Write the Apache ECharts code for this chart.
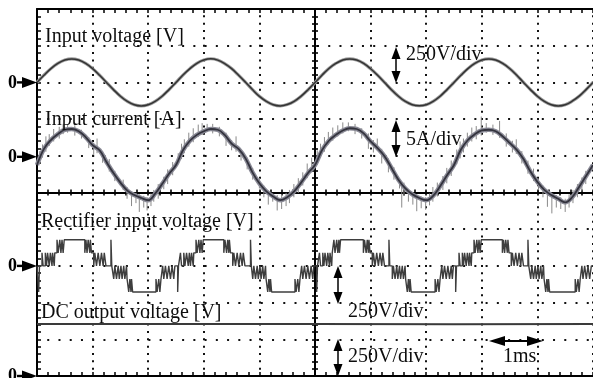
<!DOCTYPE html>
<html><head><meta charset="utf-8">
<script src="https://cdn.jsdelivr.net/npm/echarts@6/dist/echarts.min.js"></script>
<style>html,body{margin:0;padding:0;background:#fff;}#c{width:593px;height:378px;}</style>
</head><body><div id="c"></div>
<script>
// ---- time base (ms, 1 ms/div, trigger at screen centre) ----
const timeMs = [-5,-4.875,-4.75,-4.625,-4.5,-4.375,-4.25,-4.125,-4,-3.875,-3.75,-3.625,-3.5,-3.375,-3.25,-3.125,-3,-2.875,-2.75,-2.625,
-2.5,-2.375,-2.25,-2.125,-2,-1.875,-1.75,-1.625,-1.5,-1.375,-1.25,-1.125,-1,-0.875,-0.75,-0.625,-0.5,-0.375,-0.25,-0.125,
0,0.125,0.25,0.375,0.5,0.625,0.75,0.875,1,1.125,1.25,1.375,1.5,1.625,1.75,1.875,2,2.125,2.25,2.375,
2.5,2.625,2.75,2.875,3,3.125,3.25,3.375,3.5,3.625,3.75,3.875,4,4.125,4.25,4.375,4.5,4.625,4.75,4.875,5];

// Input voltage [V]
const inputVoltage = [0,49,94,129,152,160,152,129,94,49,0,-49,-94,-129,-152,-160,-152,-129,-94,-49,
0,50,94,130,152,161,152,128,94,49,1,-49,-95,-129,-152,-160,-151,-129,-94,-50,
-1,49,95,129,153,160,152,129,93,49,0,-50,-94,-130,-152,-159,-152,-129,-94,-49,
0,49,94,129,152,160,152,129,95,50,0,-49,-94,-129,-152,-160,-152,-128,-94,-49,0];

// Input current [A] (filtered trace)
const inputCurrent = [0,2.2,3.4,4.2,4.8,4.9,4.6,3.8,2.7,2.0,0.4,-1.1,-2.4,-3.5,-4.1,-4.5,-4.8,-3.9,-2.6,-1.2,
0,2.0,3.3,4.1,4.6,4.9,4.8,4.1,2.9,2.2,0.9,-1.0,-2.5,-3.6,-4.3,-4.8,-4.4,-3.6,-2.4,-1.1,
0,2.0,3.3,4.1,4.7,5.0,4.9,4.3,3.2,2.3,1.2,-0.4,-2.0,-3.2,-4.0,-4.5,-4.8,-4.2,-2.9,-1.4,
0,2.1,3.4,4.2,4.7,4.8,4.6,3.9,3.0,2.1,0.8,-0.9,-2.3,-3.4,-4.1,-4.6,-5.1,-4.4,-3.0,-1.5,0];

// Input current switching ripple spikes [t ms, low A, high A]
const currentSpikes = [
[-4.95,0.2,1.9],[-4.90,1.0,2.8],[-4.84,1.8,3.9],[-4.78,2.6,4.2],[-4.70,3.2,4.9],[-4.60,3.6,5.2],[-4.53,4.2,5.6],[-4.45,4.4,5.5],[-4.32,4.0,5.4],[-4.20,3.6,4.8],
[-4.07,2.3,3.8],[-3.98,1.4,3.0],[-3.92,1.6,3.6],[-3.82,0.3,1.8],[-3.70,-0.9,0.8],[-3.60,-2.2,-0.8],[-3.45,-3.4,-2.0],[-3.38,-4.6,-3.0],[-3.30,-5.6,-3.6],[-3.22,-5.2,-3.8],
[-3.16,-6.4,-4.0],[-3.08,-5.8,-4.2],[-3.02,-6.2,-4.4],[-2.95,-5.6,-3.9],[-2.90,-5.0,-3.4],[-2.82,-4.6,-2.6],[-2.72,-3.3,-1.6],[-2.65,-2.6,-0.6],[-2.56,-1.4,0.4],
[-2.46,0.1,1.6],[-2.40,0.8,2.9],[-2.35,1.6,3.5],[-2.27,2.5,4.4],[-2.19,3.1,5.0],[-2.10,3.8,5.5],[-2.03,4.1,5.7],[-1.94,4.5,5.6],[-1.84,4.3,5.6],[-1.72,3.9,5.2],
[-1.60,2.6,4.4],[-1.50,2.0,3.4],[-1.42,1.8,3.9],[-1.33,0.6,2.1],[-1.22,-0.6,1.0],[-1.12,-2.0,-0.4],[-1.00,-3.2,-1.8],[-0.92,-4.4,-2.8],[-0.84,-5.4,-3.5],[-0.76,-5.0,-3.9],
[-0.68,-6.2,-4.1],[-0.60,-6.0,-4.0],[-0.52,-5.6,-3.8],[-0.46,-5.2,-3.4],[-0.38,-4.4,-2.6],[-0.30,-3.8,-1.8],[-0.22,-2.8,-1.0],[-0.14,-1.8,0.2],[-0.06,-1.0,1.0],
[0.04,0.0,2.0],[0.10,1.0,2.9],[0.17,1.8,3.8],[0.24,2.8,4.5],[0.32,3.3,5.1],[0.41,3.9,5.4],[0.50,4.3,5.8],[0.60,4.6,5.8],[0.72,4.2,5.6],[0.84,3.6,5.0],
[0.96,2.2,4.3],[1.05,1.7,3.4],[1.12,2.0,3.6],[1.20,0.2,2.2],[1.32,-1.0,0.9],[1.42,-2.0,-0.3],[1.52,-3.2,-1.9],[1.56,-5.8,-2.3],[1.60,-4.2,-2.4],[1.68,-5.0,-3.3],
[1.76,-5.4,-3.8],[1.83,-6.3,-4.0],[1.91,-5.9,-4.3],[1.99,-6.1,-4.4],[2.06,-5.5,-3.9],[2.12,-5.0,-3.0],[2.20,-4.3,-2.4],[2.30,-3.4,-1.5],[2.37,-2.5,-0.4],[2.45,-1.5,0.6],
[2.55,0.1,2.1],[2.61,0.9,3.2],[2.67,1.7,3.6],[2.74,2.5,4.4],[2.82,3.2,5.1],[2.90,3.5,5.3],[2.99,4.0,6.6],[3.08,4.4,5.7],[3.20,4.1,5.5],[3.32,3.7,6.0],
[3.44,2.5,4.3],[3.55,1.7,3.3],[3.62,1.5,3.5],[3.72,0.2,1.9],[3.83,-1.2,0.6],[3.93,-2.2,-0.5],[4.02,-3.4,-1.9],[4.10,-4.4,-2.8],[4.18,-5.7,-3.6],[4.26,-6.6,-4.0],
[4.34,-5.8,-4.1],[4.42,-6.0,-4.4],[4.50,-6.4,-4.6],[4.57,-5.8,-4.0],[4.64,-5.2,-3.4],[4.72,-4.4,-2.6],[4.80,-3.6,-1.7],[4.87,-2.6,-0.8]];

// Rectifier input voltage [V] – multilevel PWM, level changes [t ms, V]
const rectP1 = [[-5.00,0],[-4.97,-178],[-4.955,0],[-4.91,89],[-4.89,0],[-4.85,89],[-4.83,0],[-4.81,89],[-4.78,0],[-4.76,89],[-4.73,0],[-4.72,89],[-4.69,0],[-4.68,89],[-4.64,178],[-4.62,89],[-4.59,178],[-4.57,89],[-4.55,178],[-4.53,89],[-4.51,178],[-4.14,89],[-4.12,178],[-4.10,89],[-4.08,178],[-4.05,89],[-4.04,178],[-4.02,89],[-3.98,0],[-3.96,89],[-3.93,0],[-3.90,89],[-3.87,0],[-3.84,89],[-3.81,0],[-3.79,89],[-3.76,0],[-3.67,178],[-3.655,0],[-3.62,-89],[-3.60,0],[-3.57,-89],[-3.54,0],[-3.52,-89],[-3.49,0],[-3.47,-89],[-3.44,0],[-3.42,-89],[-3.39,0],[-3.38,-89],[-3.35,-178],[-3.33,-89],[-3.31,-178],[-3.30,-89],[-3.28,-178],[-2.86,-89],[-2.84,-178],[-2.81,-89],[-2.79,-178],[-2.77,-89],[-2.74,0],[-2.72,-89],[-2.69,0],[-2.66,-89],[-2.63,0],[-2.60,-89],[-2.57,0],[-2.54,-89],[-2.52,0]];
const rectP2 = [[-2.50,0],[-2.47,-178],[-2.455,0],[-2.42,89],[-2.40,0],[-2.36,89],[-2.34,0],[-2.31,89],[-2.28,0],[-2.26,89],[-2.24,0],[-2.22,89],[-2.19,0],[-2.18,89],[-2.14,178],[-2.12,89],[-2.09,178],[-2.07,89],[-2.05,178],[-2.03,89],[-2.01,178],[-1.64,89],[-1.62,178],[-1.59,89],[-1.57,178],[-1.55,89],[-1.54,178],[-1.52,89],[-1.48,0],[-1.46,89],[-1.43,0],[-1.40,89],[-1.37,0],[-1.34,89],[-1.31,0],[-1.29,89],[-1.26,0],[-1.16,178],[-1.145,0],[-1.12,-89],[-1.10,0],[-1.07,-89],[-1.04,0],[-1.02,-89],[-0.99,0],[-0.97,-89],[-0.94,0],[-0.92,-89],[-0.89,0],[-0.88,-89],[-0.85,-178],[-0.83,-89],[-0.81,-178],[-0.80,-89],[-0.78,-178],[-0.36,-89],[-0.34,-178],[-0.31,-89],[-0.29,-178],[-0.27,-89],[-0.24,0],[-0.22,-89],[-0.19,0],[-0.16,-89],[-0.13,0],[-0.10,-89],[-0.07,0],[-0.04,-89],[-0.02,0]];
const rectP3 = [[0.00,0],[0.03,-178],[0.045,0],[0.08,89],[0.10,0],[0.14,89],[0.16,0],[0.18,89],[0.21,0],[0.23,89],[0.26,0],[0.27,89],[0.30,0],[0.31,89],[0.34,178],[0.36,89],[0.39,178],[0.41,89],[0.43,178],[0.44,89],[0.46,178],[0.87,89],[0.89,178],[0.92,89],[0.94,178],[0.96,89],[0.97,178],[0.99,89],[1.03,0],[1.05,89],[1.08,0],[1.11,89],[1.14,0],[1.17,89],[1.20,0],[1.22,89],[1.25,0],[1.33,178],[1.345,0],[1.39,-89],[1.41,0],[1.44,-89],[1.47,0],[1.49,-89],[1.52,0],[1.54,-89],[1.57,0],[1.59,-89],[1.62,0],[1.63,-89],[1.66,-178],[1.68,-89],[1.70,-178],[1.71,-89],[1.73,-178],[2.16,-89],[2.18,-178],[2.21,-89],[2.23,-178],[2.25,-89],[2.28,0],[2.30,-89],[2.33,0],[2.36,-89],[2.39,0],[2.42,-89],[2.45,0],[2.47,-89],[2.49,0]];
const rectP4 = [[2.50,0],[2.53,-178],[2.545,0],[2.59,89],[2.61,0],[2.65,89],[2.67,0],[2.69,89],[2.72,0],[2.74,89],[2.77,0],[2.78,89],[2.81,0],[2.82,89],[2.86,178],[2.88,89],[2.91,178],[2.93,89],[2.95,178],[2.97,89],[2.99,178],[3.37,89],[3.39,178],[3.41,89],[3.43,178],[3.46,89],[3.47,178],[3.49,89],[3.53,0],[3.55,89],[3.58,0],[3.61,89],[3.64,0],[3.67,89],[3.70,0],[3.72,89],[3.75,0],[3.83,178],[3.845,0],[3.88,-89],[3.90,0],[3.93,-89],[3.96,0],[3.98,-89],[4.01,0],[4.03,-89],[4.06,0],[4.08,-89],[4.11,0],[4.12,-89],[4.15,-178],[4.17,-89],[4.19,-178],[4.20,-89],[4.22,-178],[4.68,-89],[4.70,-178],[4.73,-89],[4.75,-178],[4.77,-89],[4.80,0],[4.82,-89],[4.85,0],[4.88,-89],[4.91,0],[4.94,-89],[4.97,0],[5.00,0]];

// DC output voltage [V]
const dcVoltage = [[-5,354],[-2.5,355],[0,354],[2.5,353],[5,354]];

// channel scales: units per division and zero position (divisions from top)
const perDiv   = {voltage:250, current:5, rect:250, dc:250};
const zeroDiv  = {voltage:2, current:4.25, rect:7, dc:10};
const DIVS = 10;

// ---- layout ----
const G = {left:37, top:9, width:562, height:367};
const divH = G.height / DIVS;

function chAxis(key){
  return {type:'value', show:false, min:-(DIVS-zeroDiv[key])*perDiv[key], max:zeroDiv[key]*perDiv[key],
          axisLine:{onZero:false}, splitLine:{show:false}};
}
const blk = '#000';
function frameAxis(base, extra){ return Object.assign({}, base, extra); }
const xBase = {type:'value', min:-5, max:5, interval:1, axisLabel:{show:false}, minorSplitLine:{show:false}};
const yBase = {type:'value', min:-5, max:5, interval:1, axisLabel:{show:false}, minorSplitLine:{show:false}};
const edgeTick = {show:true, inside:true, length:4, lineStyle:{color:blk, width:1.5}};
const edgeMinor = {show:true, splitNumber:5, length:4, lineStyle:{color:blk, width:1.5}};
const cTick = {show:true, length:3, lineStyle:{color:blk, width:1.6}};
const cMinor = {show:true, splitNumber:5, length:3, lineStyle:{color:blk, width:1.6}};

const xAxis = [
  frameAxis(xBase, {position:'bottom', axisLine:{show:true, onZero:false, lineStyle:{color:blk, width:2}},
    axisTick:edgeTick, minorTick:edgeMinor,
    splitLine:{show:true, lineStyle:{color:'#111', width:2, type:[2, divH/5-2], dashOffset:1}}}),
  frameAxis(xBase, {position:'top', axisLine:{show:true, onZero:false, lineStyle:{color:blk, width:2}},
    axisTick:edgeTick, minorTick:edgeMinor, splitLine:{show:false}}),
  frameAxis(xBase, {position:'bottom', axisLine:{show:true, onZero:true, onZeroAxisIndex:0, lineStyle:{color:blk, width:2}},
    axisTick:Object.assign({inside:true}, cTick), minorTick:cMinor, splitLine:{show:false}}),
  frameAxis(xBase, {position:'bottom', axisLine:{show:true, onZero:true, onZeroAxisIndex:0, lineStyle:{color:blk, width:2}},
    axisTick:Object.assign({inside:false}, cTick), minorTick:cMinor, splitLine:{show:false}})
];
const yAxis = [
  frameAxis(yBase, {position:'left', axisLine:{show:true, onZero:false, lineStyle:{color:blk, width:2}},
    axisTick:edgeTick, minorTick:edgeMinor,
    splitLine:{show:true, lineStyle:{color:'#111', width:2, type:[2, (G.width/10)/5-2], dashOffset:1}}}),
  frameAxis(yBase, {position:'left', axisLine:{show:true, onZero:true, onZeroAxisIndex:0, lineStyle:{color:blk, width:2}},
    axisTick:Object.assign({inside:true}, cTick), minorTick:cMinor, splitLine:{show:false}}),
  frameAxis(yBase, {position:'left', axisLine:{show:true, onZero:true, onZeroAxisIndex:0, lineStyle:{color:blk, width:2}},
    axisTick:Object.assign({inside:false}, cTick), minorTick:cMinor, splitLine:{show:false}}),
  chAxis('voltage'), chAxis('current'), chAxis('rect'), chAxis('dc')
];

const vData = timeMs.map((t,i)=>[t, inputVoltage[i]]);
const iData = timeMs.map((t,i)=>[t, inputCurrent[i]]);
const rData = rectP1.concat(rectP2, rectP3, rectP4);

// ---- annotations ----
const FONT = '20px "Liberation Serif", "Times New Roman", serif';
function txt(s, x, y){ return {type:'text', x:x, y:y, z:100, style:{text:s, font:FONT, fill:'#0d0d0d', align:'left', verticalAlign:'middle'}}; }
function vArrow(x, y1, y2){
  return [
    {type:'line', z:100, shape:{x1:x, y1:y1+8, x2:x, y2:y2-8}, style:{stroke:'#000', lineWidth:1.5}},
    {type:'polygon', z:100, shape:{points:[[x,y1],[x-4.5,y1+12],[x+4.5,y1+12]]}, style:{fill:'#000'}},
    {type:'polygon', z:100, shape:{points:[[x,y2],[x-4.5,y2-12],[x+4.5,y2-12]]}, style:{fill:'#000'}}
  ];
}
function hArrow(x1, x2, y){
  return [
    {type:'line', z:100, shape:{x1:x1+10, y1:y, x2:x2-10, y2:y}, style:{stroke:'#000', lineWidth:1.8}},
    {type:'polygon', z:100, shape:{points:[[x1,y],[x1+16,y-5],[x1+16,y+5]]}, style:{fill:'#000'}},
    {type:'polygon', z:100, shape:{points:[[x2,y],[x2-16,y-5],[x2-16,y+5]]}, style:{fill:'#000'}}
  ];
}
function zeroMarker(y){
  return [
    {type:'text', x:12.5, y:y+0.5, z:100, style:{text:'0', font:'bold 18px "Liberation Serif", serif', fill:'#000', align:'center', verticalAlign:'middle'}},
    {type:'rect', z:100, shape:{x:17, y:y-1.2, width:7, height:2.4}, style:{fill:'#000'}},
    {type:'polygon', z:100, shape:{points:[[22,y-5.5],[37,y],[22,y+5.5]]}, style:{fill:'#000'}}
  ];
}
const graphic = [].concat(
  zeroMarker(G.top + 2*divH), zeroMarker(G.top + 4*divH + 1), zeroMarker(G.top + 7*divH), zeroMarker(G.top + 10*divH),
  txt('Input voltage [V]', 45, 37),
  txt('Input current [A]', 45, 120),
  txt('Rectifier input voltage [V]', 41, 222),
  txt('DC output voltage [V]', 41, 313),
  txt('250V/div', 406, 55),
  txt('5A/div', 406, 140),
  txt('250V/div', 348, 312),
  txt('250V/div', 348, 357),
  txt('1ms', 503, 357),
  vArrow(396, 47, 83), vArrow(396, 120, 157),
  vArrow(338, 266, 304), vArrow(338, 339, 376),
  hArrow(489, 543, 341)
);

const chart = echarts.init(document.getElementById('c'), null, {renderer:'canvas'});
chart.setOption({
  animation:false,
  backgroundColor:'#fff',
  grid:{left:G.left, top:G.top, width:G.width, height:G.height, containLabel:false, show:false},
  xAxis:xAxis, yAxis:yAxis,
  series:[
    {type:'line', xAxisIndex:0, yAxisIndex:3, data:vData, smooth:0.4, symbol:'none', lineStyle:{width:3.2, color:'#9c9c9c'}, z:3},
    {type:'line', xAxisIndex:0, yAxisIndex:3, data:vData, smooth:0.4, symbol:'none', lineStyle:{width:1.5, color:'#333'}, z:4},
    {type:'custom', xAxisIndex:0, yAxisIndex:4, data:currentSpikes, clip:true, z:2,
      encode:{x:0, y:[1,2]},
      renderItem:function(params, api){
        const p1 = api.coord([api.value(0), api.value(1)]);
        const p2 = api.coord([api.value(0), api.value(2)]);
        return {type:'line', shape:{x1:p1[0], y1:p1[1], x2:p2[0], y2:p2[1]}, style:{stroke:'#8a8a8a', lineWidth:1}};
      }},
    {type:'line', xAxisIndex:0, yAxisIndex:4, data:iData, smooth:0.4, symbol:'none', lineStyle:{width:4.5, color:'#8a8a96'}, z:3},
    {type:'line', xAxisIndex:0, yAxisIndex:4, data:iData, smooth:0.4, symbol:'none', lineStyle:{width:1.8, color:'#33333d'}, z:4},
    {type:'line', xAxisIndex:0, yAxisIndex:5, data:rData, step:'end', symbol:'none', lineStyle:{width:1.4, color:'#3e3e3e'}, z:3},
    {type:'line', xAxisIndex:0, yAxisIndex:6, data:dcVoltage, symbol:'none', lineStyle:{width:2, color:'#3a3a3a'}, z:3}
  ],
  graphic:graphic
});
</script></body></html>
